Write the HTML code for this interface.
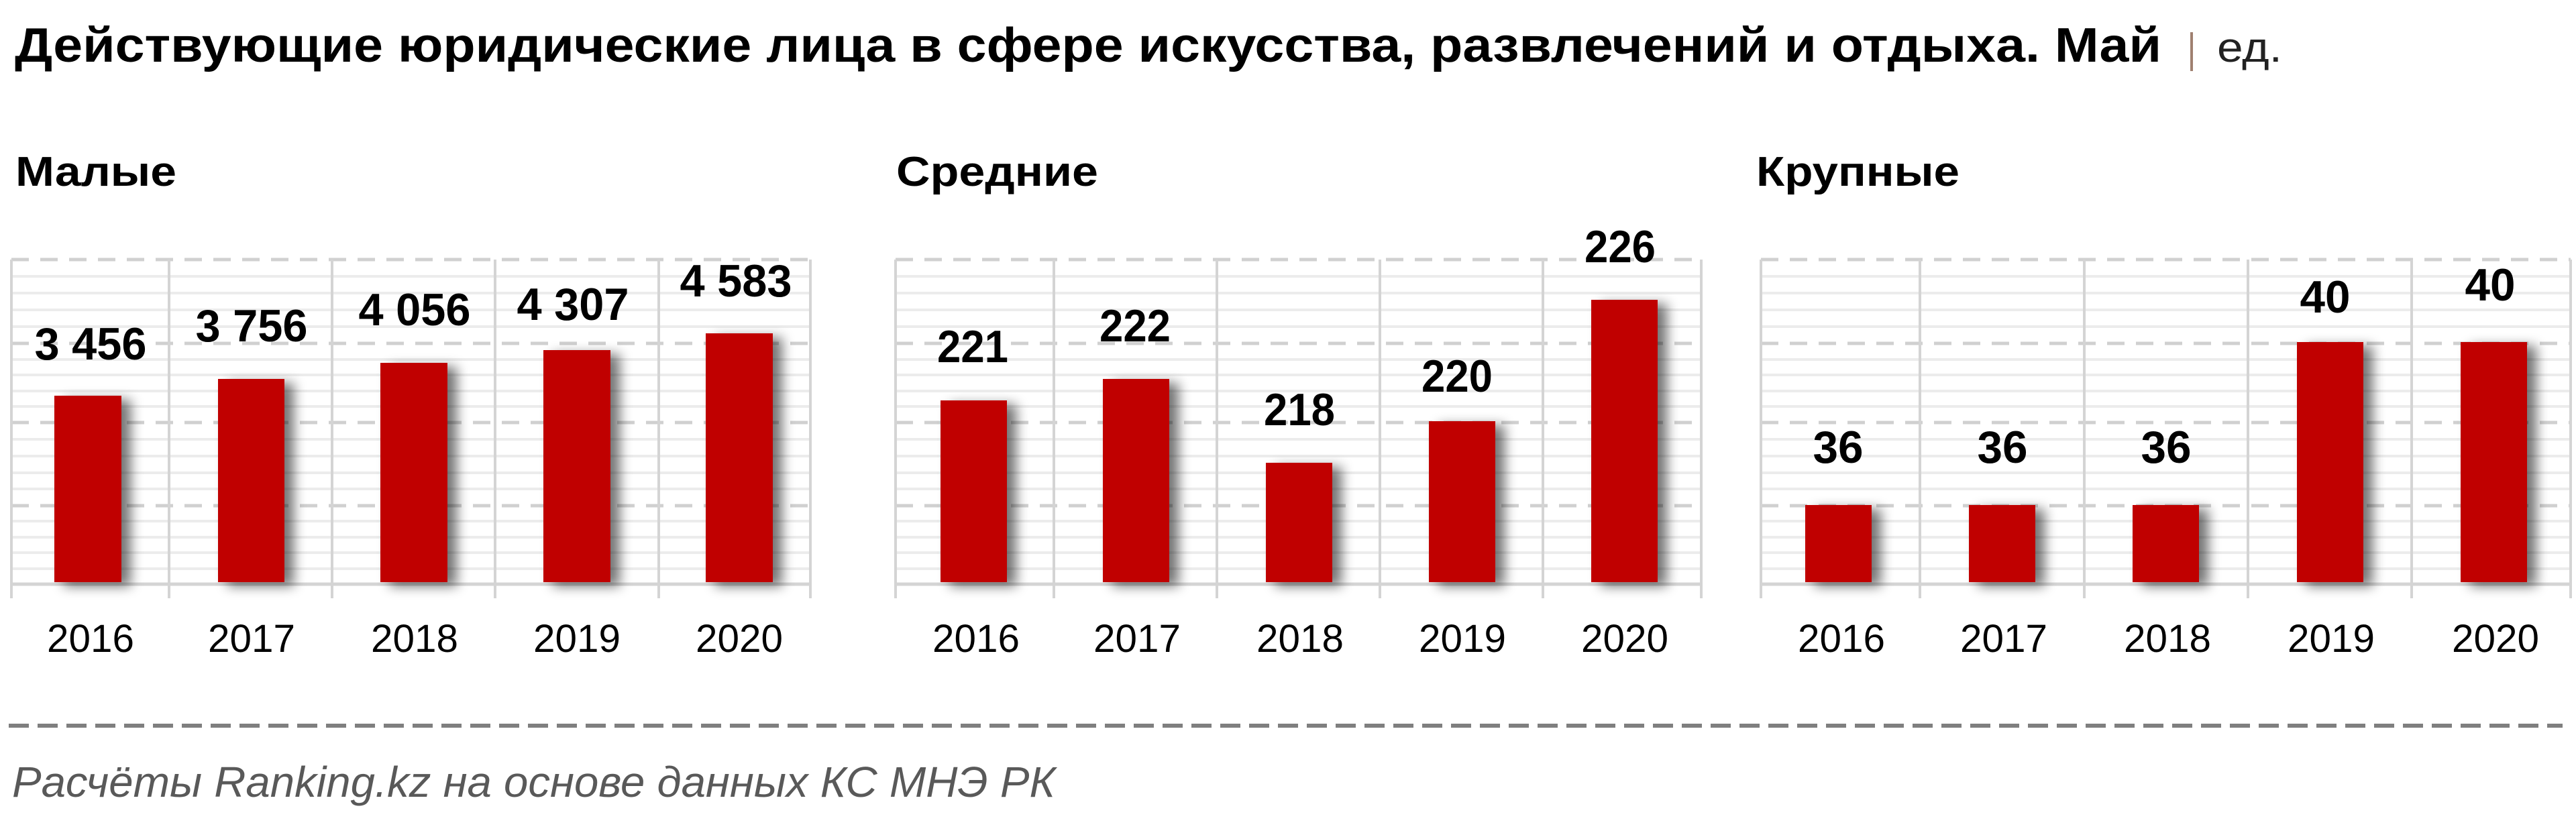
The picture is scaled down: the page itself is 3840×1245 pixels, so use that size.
<!DOCTYPE html>
<html><head><meta charset="utf-8">
<style>
html,body{margin:0;padding:0;background:#fff;}
svg{display:block;}
text{font-family:"Liberation Sans","DejaVu Sans",sans-serif;}
</style></head>
<body>
<svg width="3840" height="1245" viewBox="0 0 3840 1245" xmlns="http://www.w3.org/2000/svg">
<defs>
<filter id="sh" x="-30%" y="-10%" width="180%" height="130%">
<feGaussianBlur in="SourceAlpha" stdDeviation="9"/>
<feOffset dx="14" dy="6" result="b"/>
<feComponentTransfer><feFuncA type="linear" slope="0.55"/></feComponentTransfer>
<feMerge><feMergeNode/><feMergeNode in="SourceGraphic"/></feMerge>
</filter>
<g id="grid1">
</g>
</defs>
<rect width="3840" height="1245" fill="#fff"/>

<!-- Title -->
<text x="22" y="92" font-size="72" font-weight="bold" fill="#000" textLength="3200" lengthAdjust="spacingAndGlyphs">Действующие юридические лица в сфере искусства, развлечений и отдыха. Май</text>
<rect x="3265" y="48" width="4" height="58" fill="#a08070"/>
<text x="3305" y="92" font-size="62" fill="#222" textLength="97" lengthAdjust="spacingAndGlyphs">ед.</text>

<!-- Subtitles -->
<text x="23" y="277" font-size="62" font-weight="bold" textLength="240" lengthAdjust="spacingAndGlyphs">Малые</text>
<text x="1336" y="277" font-size="62" font-weight="bold" textLength="301" lengthAdjust="spacingAndGlyphs">Средние</text>
<text x="2618" y="277" font-size="62" font-weight="bold" textLength="303" lengthAdjust="spacingAndGlyphs">Крупные</text>

<!-- Panel grids -->
<g id="panels">
<!-- P1 -->
<g stroke="#ececec" stroke-width="4">
<line x1="17" x2="1208" y1="412" y2="412"/><line x1="17" x2="1208" y1="437" y2="437"/><line x1="17" x2="1208" y1="462" y2="462"/><line x1="17" x2="1208" y1="487" y2="487"/>
<line x1="17" x2="1208" y1="536" y2="536"/><line x1="17" x2="1208" y1="559" y2="559"/><line x1="17" x2="1208" y1="583" y2="583"/><line x1="17" x2="1208" y1="606" y2="606"/>
<line x1="17" x2="1208" y1="655" y2="655"/><line x1="17" x2="1208" y1="680" y2="680"/><line x1="17" x2="1208" y1="705" y2="705"/><line x1="17" x2="1208" y1="729" y2="729"/>
<line x1="17" x2="1208" y1="777" y2="777"/><line x1="17" x2="1208" y1="801" y2="801"/><line x1="17" x2="1208" y1="824" y2="824"/><line x1="17" x2="1208" y1="848" y2="848"/>
</g>
<g stroke="#d0d0d0" stroke-width="5" stroke-dasharray="26 17">
<line x1="17" x2="1208" y1="387" y2="387"/><line x1="17" x2="1208" y1="512" y2="512"/><line x1="17" x2="1208" y1="630" y2="630"/><line x1="17" x2="1208" y1="754" y2="754"/>
</g>
<g stroke="#d4d4d4" stroke-width="4">
<line x1="17" x2="1208" y1="871" y2="871" stroke-width="5"/>
<line x1="17" x2="17" y1="387" y2="892"/><line x1="252" x2="252" y1="387" y2="892"/><line x1="495" x2="495" y1="387" y2="892"/><line x1="738" x2="738" y1="387" y2="892"/><line x1="982" x2="982" y1="387" y2="892"/><line x1="1208" x2="1208" y1="387" y2="892"/>
</g>
<!-- P2 -->
<g stroke="#ececec" stroke-width="4">
<line x1="1335" x2="2536" y1="412" y2="412"/><line x1="1335" x2="2536" y1="437" y2="437"/><line x1="1335" x2="2536" y1="462" y2="462"/><line x1="1335" x2="2536" y1="487" y2="487"/>
<line x1="1335" x2="2536" y1="536" y2="536"/><line x1="1335" x2="2536" y1="559" y2="559"/><line x1="1335" x2="2536" y1="583" y2="583"/><line x1="1335" x2="2536" y1="606" y2="606"/>
<line x1="1335" x2="2536" y1="655" y2="655"/><line x1="1335" x2="2536" y1="680" y2="680"/><line x1="1335" x2="2536" y1="705" y2="705"/><line x1="1335" x2="2536" y1="729" y2="729"/>
<line x1="1335" x2="2536" y1="777" y2="777"/><line x1="1335" x2="2536" y1="801" y2="801"/><line x1="1335" x2="2536" y1="824" y2="824"/><line x1="1335" x2="2536" y1="848" y2="848"/>
</g>
<g stroke="#d0d0d0" stroke-width="5" stroke-dasharray="26 17">
<line x1="1335" x2="2536" y1="387" y2="387"/><line x1="1335" x2="2536" y1="512" y2="512"/><line x1="1335" x2="2536" y1="630" y2="630"/><line x1="1335" x2="2536" y1="754" y2="754"/>
</g>
<g stroke="#d4d4d4" stroke-width="4">
<line x1="1335" x2="2536" y1="871" y2="871" stroke-width="5"/>
<line x1="1335" x2="1335" y1="387" y2="892"/><line x1="1571" x2="1571" y1="387" y2="892"/><line x1="1814" x2="1814" y1="387" y2="892"/><line x1="2057" x2="2057" y1="387" y2="892"/><line x1="2300" x2="2300" y1="387" y2="892"/><line x1="2536" x2="2536" y1="387" y2="892"/>
</g>
<!-- P3 -->
<g stroke="#ececec" stroke-width="4">
<line x1="2625" x2="3832" y1="412" y2="412"/><line x1="2625" x2="3832" y1="437" y2="437"/><line x1="2625" x2="3832" y1="462" y2="462"/><line x1="2625" x2="3832" y1="487" y2="487"/>
<line x1="2625" x2="3832" y1="536" y2="536"/><line x1="2625" x2="3832" y1="559" y2="559"/><line x1="2625" x2="3832" y1="583" y2="583"/><line x1="2625" x2="3832" y1="606" y2="606"/>
<line x1="2625" x2="3832" y1="655" y2="655"/><line x1="2625" x2="3832" y1="680" y2="680"/><line x1="2625" x2="3832" y1="705" y2="705"/><line x1="2625" x2="3832" y1="729" y2="729"/>
<line x1="2625" x2="3832" y1="777" y2="777"/><line x1="2625" x2="3832" y1="801" y2="801"/><line x1="2625" x2="3832" y1="824" y2="824"/><line x1="2625" x2="3832" y1="848" y2="848"/>
</g>
<g stroke="#d0d0d0" stroke-width="5" stroke-dasharray="26 17">
<line x1="2625" x2="3832" y1="387" y2="387"/><line x1="2625" x2="3832" y1="512" y2="512"/><line x1="2625" x2="3832" y1="630" y2="630"/><line x1="2625" x2="3832" y1="754" y2="754"/>
</g>
<g stroke="#d4d4d4" stroke-width="4">
<line x1="2625" x2="3832" y1="871" y2="871" stroke-width="5"/>
<line x1="2625" x2="2625" y1="387" y2="892"/><line x1="2862" x2="2862" y1="387" y2="892"/><line x1="3107" x2="3107" y1="387" y2="892"/><line x1="3351" x2="3351" y1="387" y2="892"/><line x1="3595" x2="3595" y1="387" y2="892"/><line x1="3832" x2="3832" y1="387" y2="892"/>
</g>
</g>

<!-- Bars -->
<g fill="#c00000" filter="url(#sh)">
<rect x="81" y="590" width="100" height="278"/>
<rect x="325" y="565" width="99" height="303"/>
<rect x="567" y="541" width="100" height="327"/>
<rect x="810" y="522" width="100" height="346"/>
<rect x="1052" y="497" width="100" height="371"/>

<rect x="1402" y="597" width="99" height="271"/>
<rect x="1644" y="565" width="99" height="303"/>
<rect x="1887" y="690" width="99" height="178"/>
<rect x="2130" y="628" width="99" height="240"/>
<rect x="2372" y="447" width="99" height="421"/>

<rect x="2691" y="753" width="99" height="115"/>
<rect x="2935" y="753" width="99" height="115"/>
<rect x="3179" y="753" width="99" height="115"/>
<rect x="3424" y="510" width="99" height="358"/>
<rect x="3668" y="510" width="99" height="358"/>
</g>

<!-- Value labels -->
<g font-size="68" font-weight="bold" fill="#000" text-anchor="middle" lengthAdjust="spacingAndGlyphs">
<text x="135" y="536" textLength="167" lengthAdjust="spacingAndGlyphs">3 456</text>
<text x="375" y="509" textLength="167" lengthAdjust="spacingAndGlyphs">3 756</text>
<text x="618" y="485" textLength="167" lengthAdjust="spacingAndGlyphs">4 056</text>
<text x="854" y="477" textLength="167" lengthAdjust="spacingAndGlyphs">4 307</text>
<text x="1097" y="442" textLength="167" lengthAdjust="spacingAndGlyphs">4 583</text>

<text x="1450" y="540" textLength="106" lengthAdjust="spacingAndGlyphs">221</text>
<text x="1692" y="509" textLength="106" lengthAdjust="spacingAndGlyphs">222</text>
<text x="1937" y="634" textLength="106" lengthAdjust="spacingAndGlyphs">218</text>
<text x="2172" y="584" textLength="106" lengthAdjust="spacingAndGlyphs">220</text>
<text x="2415" y="391" textLength="106" lengthAdjust="spacingAndGlyphs">226</text>

<text x="2740" y="690" textLength="75" lengthAdjust="spacingAndGlyphs">36</text>
<text x="2985" y="690" textLength="75" lengthAdjust="spacingAndGlyphs">36</text>
<text x="3229" y="690" textLength="75" lengthAdjust="spacingAndGlyphs">36</text>
<text x="3466" y="466" textLength="75" lengthAdjust="spacingAndGlyphs">40</text>
<text x="3712" y="448" textLength="75" lengthAdjust="spacingAndGlyphs">40</text>
</g>

<!-- Year labels -->
<g font-size="58" fill="#000" text-anchor="middle">
<text x="135" y="972" textLength="130" lengthAdjust="spacingAndGlyphs">2016</text>
<text x="375" y="972" textLength="130" lengthAdjust="spacingAndGlyphs">2017</text>
<text x="618" y="972" textLength="130" lengthAdjust="spacingAndGlyphs">2018</text>
<text x="860" y="972" textLength="130" lengthAdjust="spacingAndGlyphs">2019</text>
<text x="1102" y="972" textLength="130" lengthAdjust="spacingAndGlyphs">2020</text>

<text x="1455" y="972" textLength="130" lengthAdjust="spacingAndGlyphs">2016</text>
<text x="1695" y="972" textLength="130" lengthAdjust="spacingAndGlyphs">2017</text>
<text x="1938" y="972" textLength="130" lengthAdjust="spacingAndGlyphs">2018</text>
<text x="2180" y="972" textLength="130" lengthAdjust="spacingAndGlyphs">2019</text>
<text x="2422" y="972" textLength="130" lengthAdjust="spacingAndGlyphs">2020</text>

<text x="2745" y="972" textLength="130" lengthAdjust="spacingAndGlyphs">2016</text>
<text x="2987" y="972" textLength="130" lengthAdjust="spacingAndGlyphs">2017</text>
<text x="3231" y="972" textLength="130" lengthAdjust="spacingAndGlyphs">2018</text>
<text x="3475" y="972" textLength="130" lengthAdjust="spacingAndGlyphs">2019</text>
<text x="3720" y="972" textLength="130" lengthAdjust="spacingAndGlyphs">2020</text>
</g>

<!-- Footer -->
<line x1="13" x2="3820" y1="1082" y2="1082" stroke="#7f7f7f" stroke-width="6" stroke-dasharray="30 13"/>
<text x="18" y="1188" font-size="64" font-style="italic" fill="#595959" textLength="1555" lengthAdjust="spacingAndGlyphs">Расчёты Ranking.kz на основе данных  КС МНЭ РК</text>
</svg>
</body></html>
